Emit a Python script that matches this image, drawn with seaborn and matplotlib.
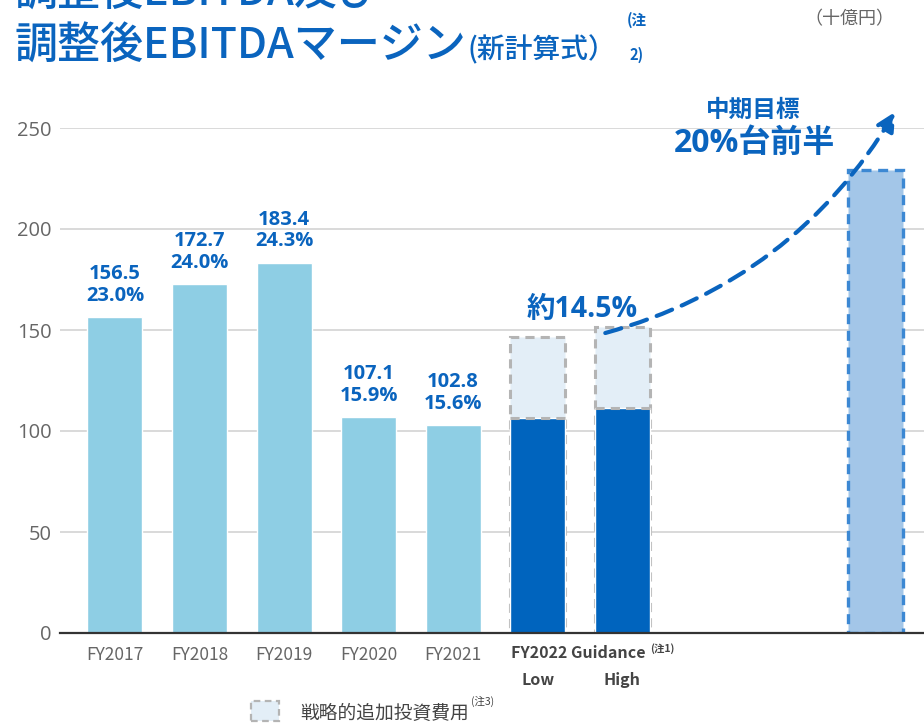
import matplotlib
matplotlib.use("Agg")
import matplotlib.pyplot as plt
import seaborn as sns
import pandas as pd
from matplotlib.patches import Rectangle

sns.set_theme(style="white")
plt.rcParams['font.family'] = ['Noto Sans CJK JP', 'DejaVu Sans']

# ---------------- data ----------------
hist_years = ["FY2017", "FY2018", "FY2019", "FY2020", "FY2021"]
hist_ebitda = [156.5, 172.7, 183.4, 107.1, 102.8]
hist_margin = ["23.0", "24.0", "24.3", "15.9", "15.6"]
guide_labels = ["Low", "High"]
guide_base = [106.5, 111.5]
guide_strategic = [40.0, 40.0]
target_value = 229.0
yticks = [0, 50, 100, 150, 200, 250]

BLUE = "#0A64BE"
LIGHT = "#8ECEE4"
DARK = "#0064BE"
GREY_TXT = "#666666"
OPEN = ['Open Sans', 'Noto Sans CJK JP', 'DejaVu Sans']

fig = plt.figure(figsize=(9.24, 7.25), dpi=100)
W, H = 924, 725
ax = fig.add_axes([60 / W, 1 - 633 / H, 1 - 60 / W, (633 - 128) / H])

hist_pos = list(range(len(hist_years)))
guide_pos = [len(hist_years) + i for i in range(len(guide_labels))]
target_pos = guide_pos[-1] + 3
bw = 0.65

df_hist = pd.DataFrame({"x": hist_pos, "v": hist_ebitda})
sns.barplot(data=df_hist, x="x", y="v", native_scale=True, color=LIGHT,
            saturation=1, width=bw, ax=ax, errorbar=None, zorder=3)

totals = [b + s for b, s in zip(guide_base, guide_strategic)]
df_tot = pd.DataFrame({"x": guide_pos, "v": totals})
sns.barplot(data=df_tot, x="x", y="v", native_scale=True, color="#E3EEF7",
            saturation=1, width=bw, ax=ax, errorbar=None, zorder=3,
            edgecolor="#B4B4B4", linestyle=(0, (3, 2)), linewidth=2.2)
df_base = pd.DataFrame({"x": guide_pos, "v": guide_base})
sns.barplot(data=df_base, x="x", y="v", native_scale=True, color=DARK,
            saturation=1, width=bw, ax=ax, errorbar=None, zorder=4)
for p, b in zip(guide_pos, guide_base):
    ax.plot([p - bw / 2, p + bw / 2], [b, b], color="#B4B4B4", lw=2.2,
            ls=(0, (3, 2)), zorder=5)

df_t = pd.DataFrame({"x": [target_pos], "v": [target_value]})
sns.barplot(data=df_t, x="x", y="v", native_scale=True, color="#A3C6E8",
            saturation=1, width=bw, ax=ax, errorbar=None, zorder=3,
            edgecolor="#3C88D3", linestyle=(0, (3, 2)), linewidth=2.4)

ax.set_xlim(-0.65, 9.57)
ax.set_ylim(0, 250)
ax.set_yticks(yticks)
ax.set_yticklabels([str(t) for t in yticks], fontsize=14.5, color=GREY_TXT,
                   family=['Open Sans', 'DejaVu Sans'])
ax.set_xticks(hist_pos)
ax.set_xticklabels(hist_years, fontsize=12.5, color=GREY_TXT)
ax.tick_params(axis='both', length=0)
ax.tick_params(axis='x', pad=9)
ax.tick_params(axis='y', pad=6)
ax.set_xlabel("")
ax.set_ylabel("")
ax.yaxis.grid(True, color="#CFCFCF", lw=1.1, zorder=0)
ax.xaxis.grid(False)
for s in ["left", "right", "top"]:
    ax.spines[s].set_visible(False)
ax.spines["bottom"].set_color("#333333")
ax.spines["bottom"].set_linewidth(1.6)
ax.spines["bottom"].set_zorder(6)

# value labels
for p, v, m in zip(hist_pos, hist_ebitda, hist_margin):
    ax.text(p, v + 5.5, f"{v}\n{m}%", ha="center", va="bottom", fontsize=14.5,
            fontweight="bold", color=BLUE, linespacing=1.12, zorder=6,
            family=OPEN)

# guidance labels
trans = ax.get_xaxis_transform()
gmid = sum(guide_pos) / len(guide_pos)
ax.text(gmid - 0.02, -0.04, "FY2022 Guidance", transform=trans, ha="center",
        va="center", fontsize=11.5, fontweight="bold", color="#444444")
ax.text(gmid + 0.83, -0.03, "(注1)", transform=trans, ha="left",
        va="center", fontsize=7.5, fontweight="bold", color="#444444")
for p, lab in zip(guide_pos, guide_labels):
    ax.text(p, -0.094, lab, transform=trans, ha="center", va="center",
            fontsize=11.5, fontweight="bold", color="#444444")

# annotations
ax.text(5.53, 160, "約14.5%", ha="center", va="center", fontsize=20.5,
        fontweight="bold", color=BLUE, zorder=7, family=OPEN)
ax.annotate("", xy=(9.23, 258), xytext=(5.8, 148.5), annotation_clip=False,
            arrowprops=dict(arrowstyle="-|>", color=BLUE, lw=3,
                            linestyle=(0, (4, 2.5)), mutation_scale=28,
                            connectionstyle="arc3,rad=0.2",
                            shrinkA=0, shrinkB=0), zorder=7)
ax.text(7.55, 259, "中期目標", ha="center", va="center", fontsize=17,
        fontweight="bold", color=BLUE, clip_on=False)
ax.text(7.56, 242.5, "20%台前半", ha="center", va="center", fontsize=23,
        fontweight="bold", color=BLUE, clip_on=False, family=OPEN)

# titles
def fx(x):
    return x / W


def fy(y):
    return 1 - y / H


fig.text(fx(14), fy(-8), "調整後EBITDA及び", ha="left", va="center",
         fontsize=31, color=BLUE, fontweight="medium")
t_main = fig.text(fx(14), fy(58), "調整後EBITDAマージン", ha="left",
                  va="baseline", fontsize=31, color=BLUE, fontweight="medium")
fig.canvas.draw()
bb = t_main.get_window_extent(fig.canvas.get_renderer())
fig.text(bb.x1 / W + 2 / W, fy(58), "(新計算式）", ha="left", va="baseline",
         fontsize=20, color=BLUE, fontweight="medium")
fig.text(fx(637), fy(20), "(注", ha="center", va="center", fontsize=10.5,
         fontweight="bold", color=BLUE)
fig.text(fx(637), fy(55), "2)", ha="center", va="center", fontsize=10.5,
         fontweight="bold", color=BLUE)
fig.text(fx(849), fy(19), "（十億円）", ha="center", va="center", fontsize=13,
         color=GREY_TXT)

# legend
fig.patches.append(Rectangle((fx(251), fy(721)), 28 / W, 20 / H,
                             transform=fig.transFigure, facecolor="#E3EEF7",
                             edgecolor="#B4B4B4", lw=1.6, ls=(0, (3, 2))))
fig.text(fx(300), fy(713), "戦略的追加投資費用", ha="left", va="center",
         fontsize=13.5, color="#444444")
fig.text(fx(471), fy(701), "(注3)", ha="left", va="center", fontsize=7.5,
         color="#444444")

fig.savefig("out.png", dpi=100)
